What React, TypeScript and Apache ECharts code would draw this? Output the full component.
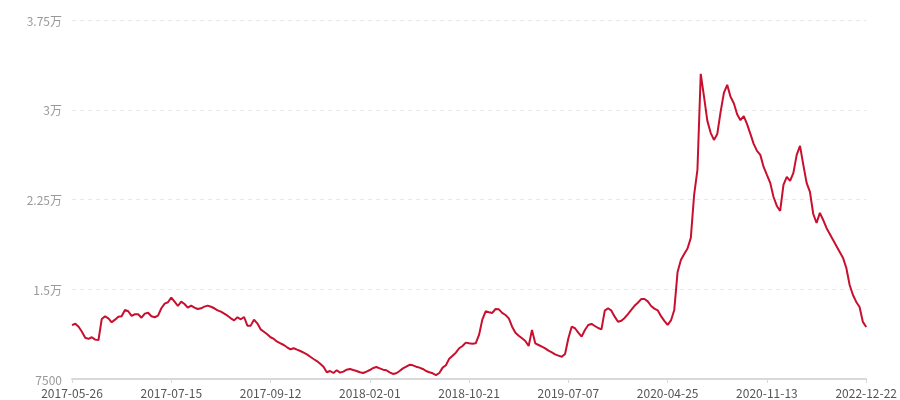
import React, { useEffect, useRef } from "react";
import * as echarts from "echarts";

// Anchor dates shown on the x axis (every 30th category)
const anchorDates = [
  "2017-05-26", "2017-07-15", "2017-09-12", "2018-02-01", "2018-10-21",
  "2019-07-07", "2020-04-25", "2020-11-13", "2022-12-22",
];
const labelStep = 30;

const values = [
  12000, 12120, 11870, 11450, 10950, 10850, 10990, 10790, 10760, 12520, 12740, 12570, 12240, 12460, 12710, 12740, 13270, 13160, 12770, 12910, 12910, 12620, 12960, 13040, 12740, 12660, 12790, 13410, 13800, 13910, 14300,
  13960, 13600, 13960, 13770, 13460, 13630, 13460, 13350, 13410, 13550, 13630, 13540, 13410, 13240, 13130, 12960, 12790, 12570, 12400, 12660, 12490, 12680, 11960, 11960, 12460, 12150, 11650, 11450, 11240, 10990,
  10850, 10620, 10480, 10340, 10150, 9980, 10070, 9950, 9840, 9700, 9560, 9360, 9170, 9000, 8780, 8530, 8060, 8170, 8000, 8230, 8030, 8120, 8280, 8340, 8250, 8170, 8060, 8000, 8120, 8250,
  8420, 8500, 8390, 8280, 8230, 8060, 7920, 7980, 8170, 8390, 8530, 8690, 8640, 8530, 8450, 8340, 8170, 8060, 7980, 7830, 8000, 8450, 8650, 9200, 9450, 9700, 10070, 10260, 10540, 10480,
  10450, 10480, 11180, 12460, 13160, 13080, 13020, 13350, 13320, 13020, 12850, 12570, 11870, 11370, 11120, 10900, 10680, 10260, 11600, 10480, 10340, 10200, 10060, 9870, 9730, 9560, 9450, 9360, 9590, 10900,
  11870, 11740, 11370, 11040, 11600, 12010, 12100, 11930, 11760, 11650, 13210, 13410, 13210, 12710, 12290, 12370, 12600, 12930, 13270, 13620, 13870, 14180, 14190, 13990, 13600, 13380, 13240, 12750, 12360, 12030,
  12390, 13270, 16440, 17450, 17950, 18410, 19290, 22880, 24970, 33000, 31080, 29070, 28070, 27480, 27980, 29820, 31410, 32080, 31080, 30550, 29630, 29130, 29470, 28800, 27980, 27150, 26560, 26230, 25220, 24550,
  23890, 22710, 21960, 21540, 23720, 24390, 24050, 24720, 26230, 26980, 25390, 23890, 23130, 21290, 20540, 21380, 20790, 20120, 19620, 19120, 18620, 18120, 17620, 16780, 15360, 14520, 13940, 13520, 12270, 11850,
];

const yMin = 7500;
const yMax = 37500;
const yStep = 7500;

function buildDates(): string[] {
  const out: string[] = [];
  const day = 86400000;
  for (let a = 0; a < anchorDates.length - 1; a++) {
    const t0 = Date.parse(anchorDates[a] + "T00:00:00Z");
    const t1 = Date.parse(anchorDates[a + 1] + "T00:00:00Z");
    for (let k = 0; k < labelStep; k++) {
      if (k === 0) {
        out.push(anchorDates[a]);
      } else {
        const t = t0 + Math.round(((t1 - t0) / day) * (k / labelStep)) * day;
        out.push(new Date(t).toISOString().slice(0, 10));
      }
    }
  }
  out.push(anchorDates[anchorDates.length - 1]);
  return out;
}

const categories = buildDates();

export default function App() {
  const ref = useRef<HTMLDivElement>(null);
  useEffect(() => {
    if (!ref.current) return;
    const chart = echarts.init(ref.current, undefined, { renderer: "svg" });
    const font = "'Noto Sans CJK SC', 'Noto Sans', sans-serif";
    chart.setOption({
      animation: false,
      grid: { left: 72, right: 32, top: 20, bottom: 21, containLabel: false },
      xAxis: {
        type: "category",
        data: categories,
        boundaryGap: false,
        axisLine: { lineStyle: { color: "#d9d9d9", width: 2 } },
        axisTick: { show: true, interval: labelStep - 1, length: 4, lineStyle: { color: "#d9d9d9" } },
        axisLabel: {
          interval: labelStep - 1,
          color: "#555",
          fontSize: 12,
          lineHeight: 11,
          fontFamily: font,
          margin: 8,
        },
        splitLine: { show: false },
      },
      yAxis: {
        type: "value",
        min: yMin,
        max: yMax,
        interval: yStep,
        axisLine: { show: false },
        axisTick: { show: false },
        axisLabel: {
          color: "#999",
          fontSize: 12,
          lineHeight: 10,
          fontFamily: font,
          margin: 10,
          formatter: (v: number) => (v >= 10000 ? `${v / 10000}万` : `${v}`),
        },
        splitLine: { lineStyle: { color: "#e8e8e8", type: [4, 4] } },
      },
      series: [
        {
          type: "line",
          data: values,
          symbol: "none",
          smooth: false,
          lineStyle: { color: "#c8102e", width: 2 },
        },
      ],
    });
    return () => chart.dispose();
  }, []);
  return (
    <div
      ref={ref}
      style={{ position: "fixed", left: 0, top: 0, width: 900, height: 400, overflow: "hidden" }}
    />
  );
}
